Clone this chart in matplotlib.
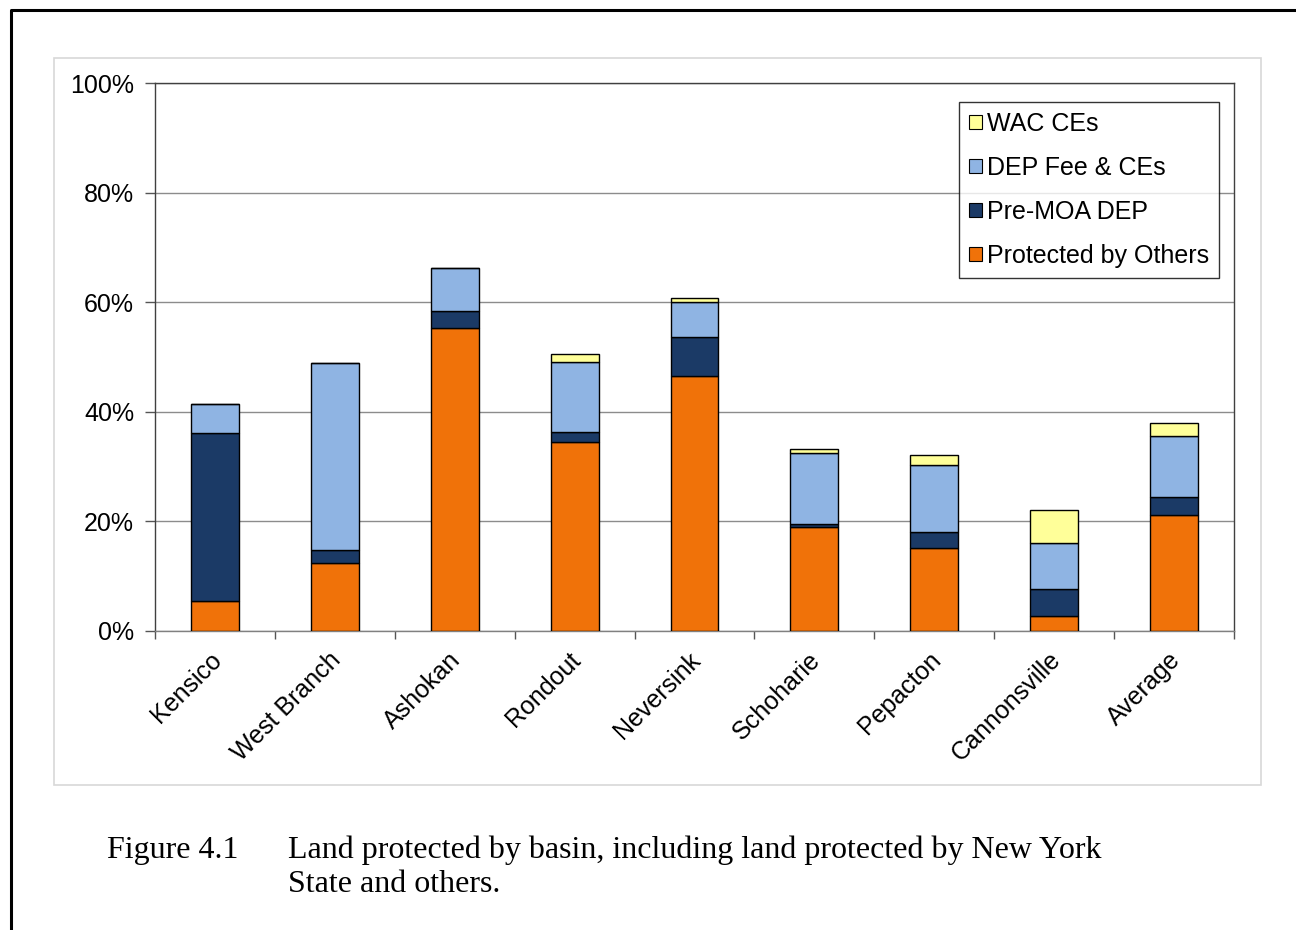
import matplotlib.pyplot as plt
import matplotlib.transforms as mtransforms
from matplotlib.patches import Rectangle
from matplotlib.lines import Line2D
import numpy as np

plt.rcParams['font.family'] = ['Liberation Sans', 'DejaVu Sans']

basins = ['Kensico', 'West Branch', 'Ashokan', 'Rondout', 'Neversink',
          'Schoharie', 'Pepacton', 'Cannonsville', 'Average']
# percent of basin area, stacked bottom to top
others = [5.5, 12.4, 55.3, 34.5, 46.5, 19.0, 15.1, 2.7, 21.2]
pre_moa = [30.6, 2.4, 3.1, 1.9, 7.1, 0.5, 3.0, 5.0, 3.3]
dep_fee = [5.3, 34.1, 7.8, 12.7, 6.4, 12.9, 12.2, 8.4, 11.1]
wac = [0.0, 0.0, 0.0, 1.4, 0.7, 0.8, 1.9, 5.9, 2.3]

series = [
    ('Protected by Others', others, '#F07209'),
    ('Pre-MOA DEP', pre_moa, '#1B3A66'),
    ('DEP Fee & CEs', dep_fee, '#8FB4E3'),
    ('WAC CEs', wac, '#FFFF99'),
]

W, H = 1296, 930
fig = plt.figure(figsize=(W / 100, H / 100), dpi=100)

# outer page frame (left and top visible)
fig.add_artist(Line2D([11 / W, 11 / W, 1.0], [0.0, 1 - 10 / H, 1 - 10 / H],
                      transform=fig.transFigure, color='black', lw=2.2))
# faint chart-area border
fig.add_artist(Rectangle((54 / W, 1 - 785 / H), (1261 - 54) / W, (785 - 58) / H,
                         transform=fig.transFigure, fill=False,
                         edgecolor='#d8d8d8', lw=1.2))

ax = fig.add_axes([155 / W, 1 - 631 / H, (1234 - 155) / W, (631 - 83) / H])

x = np.arange(len(basins))
bottom = np.zeros(len(basins))
handles = {}
for name, vals, col in series:
    vals = np.array(vals)
    b = ax.bar(x, vals, 0.4, bottom=bottom, color=col, edgecolor='black',
               linewidth=1, label=name, zorder=3)
    handles[name] = b
    bottom += vals

ax.set_xlim(-0.5, len(basins) - 0.5)
ax.set_ylim(0, 100)
ax.set_yticks(np.arange(0, 101, 20))
ax.set_yticklabels(['%d%%' % v for v in range(0, 101, 20)], fontsize=18)
ax.yaxis.grid(True, color='#8c8c8c', lw=1, zorder=0)
ax.tick_params(axis='y', length=7, width=1, color='#555555', pad=8)

ax.set_xticks(np.arange(-0.5, len(basins), 1.0))
ax.set_xticklabels([])
ax.tick_params(axis='x', which='major', length=6, width=1, color='#555555')
ax.set_xticks(x, minor=True)
ax.set_xticklabels(basins, minor=True, rotation=45, ha='right',
                   rotation_mode='anchor', fontsize=18)
ax.tick_params(axis='x', which='minor', length=0, pad=12)
shift = mtransforms.ScaledTranslation(-6 / 100, 0, fig.dpi_scale_trans)
for lab in ax.get_xticklabels(minor=True):
    lab.set_transform(lab.get_transform() + shift)

for s in ax.spines.values():
    s.set_color('#404040')
    s.set_linewidth(1)
ax.spines['bottom'].set_color('#808080')

order = ['WAC CEs', 'DEP Fee & CEs', 'Pre-MOA DEP', 'Protected by Others']
leg = ax.legend([handles[n] for n in order], order, loc='upper right',
                bbox_to_anchor=(1219 / W, 1 - 102 / H),
                bbox_transform=fig.transFigure, fontsize=18, frameon=True,
                fancybox=False, edgecolor='black', handlelength=0.5,
                handleheight=0.5, handletextpad=0.2, labelspacing=0.8,
                borderpad=0.4, borderaxespad=0)
leg.get_frame().set_linewidth(1)
for p in leg.get_patches():
    p.set_linewidth(0.8)

fig.text(107 / W, 1 - 850 / H, 'Figure 4.1', family='Liberation Serif',
         fontsize=23, va='center', ha='left')
fig.text(288 / W, 1 - 850 / H,
         'Land protected by basin, including land protected by New York',
         family='Liberation Serif', fontsize=23, va='center', ha='left')
fig.text(288 / W, 1 - 884 / H, 'State and others.',
         family='Liberation Serif', fontsize=23, va='center', ha='left')

fig.savefig('out.png', dpi=100)
